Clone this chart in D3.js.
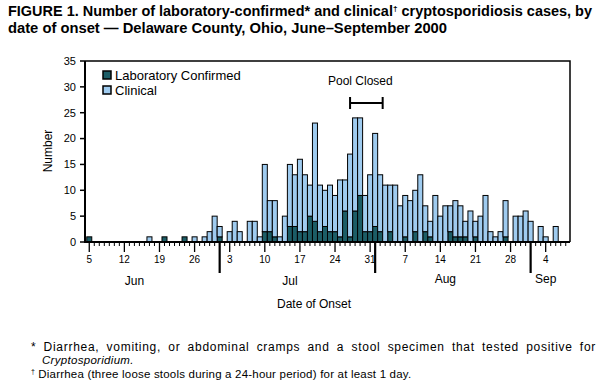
<!DOCTYPE html>
<html>
<head>
<meta charset="utf-8">
<script src="https://cdn.jsdelivr.net/npm/d3@7"></script>
<style>
  body { margin: 0; background: #fff; }
  svg { display: block; font-family: "Liberation Sans", Arial, sans-serif; }
</style>
</head>
<body>
<svg id="chart" width="604" height="386"></svg>
<script>
// daily counts, Jun 5 .. Sep 8 2000
const firstDay = "2000-06-05";
const lastDay = "2000-09-08";

const labConfirmed = [
  1, 0, 0, 0, 0, 0, 0, 0, 0, 0,
  0, 0, 0, 0, 0, 1, 0, 0, 0, 1,
  0, 0, 0, 0, 0, 0, 1, 0, 0, 0,
  0, 0, 0, 0, 0, 2, 2, 1, 0, 0,
  3, 3, 2, 2, 5, 4, 2, 3, 2, 2,
  1, 6, 1, 6, 9, 2, 2, 3, 2, 0,
  2, 0, 0, 1, 0, 2, 0, 2, 1, 0,
  0, 0, 2, 1, 1, 1, 0, 1, 0, 0,
  0, 0, 0, 1, 0, 0, 0, 0, 0, 0,
  0, 0, 0, 0, 0, 0
];

const clinical = [
  0, 0, 0, 0, 0, 0, 0, 0, 0, 0,
  0, 0, 1, 0, 0, 0, 0, 0, 0, 0,
  0, 1, 0, 1, 2, 5, 2, 0, 2, 4,
  2, 0, 4, 4, 1, 13, 6, 7, 1, 5,
  12, 10, 14, 11, 6, 19, 9, 7, 9, 7,
  11, 6, 16, 18, 15, 7, 11, 18, 11, 11,
  9, 11, 7, 8, 8, 8, 13, 5, 3, 9,
  5, 7, 5, 7, 6, 3, 6, 3, 5, 9,
  2, 1, 2, 7, 0, 5, 5, 6, 4, 0,
  3, 1, 0, 3, 0, 0
];

const weekTicks = ["2000-06-05", "2000-06-12", "2000-06-19", "2000-06-26", "2000-07-03",
  "2000-07-10", "2000-07-17", "2000-07-24", "2000-07-31", "2000-08-07", "2000-08-14",
  "2000-08-21", "2000-08-28", "2000-09-04"];
const monthNames = ["Jun", "Jul", "Aug", "Sep"];
const monthLabelDays = ["2000-06-14", "2000-07-15", "2000-08-15", "2000-09-04"];
const poolClosed = ["2000-07-27", "2000-08-02"];
const yTicks = [0, 5, 10, 15, 20, 25, 30, 35];

const parse = d3.timeParse("%Y-%m-%d");
const fmtKey = d3.timeFormat("%Y-%m-%d");

const svg = d3.select("#chart");
const plotLeft = 85, plotRight = 570, plotTop = 61, plotBottom = 242;
const lightBlue = "#9fcbef", darkTeal = "#1c5d66";

const days = d3.timeDay.range(parse(firstDay), d3.timeDay.offset(parse(lastDay), 1));
const rows = days.map((d, i) => ({ key: fmtKey(d), date: d, lab: labConfirmed[i], clin: clinical[i] }));

const x = d3.scaleBand()
  .domain(rows.map(d => d.key))
  .range([plotLeft, plotRight])
  .paddingInner(0)
  .paddingOuter(0.35);
const bw = x.bandwidth();
const cx = k => x(k) + bw / 2;

const y = d3.scaleLinear().domain([0, 35]).range([plotBottom, plotTop]);

// title
const t1 = svg.append("text").attr("x", 8).attr("y", 16)
  .attr("font-size", 14).attr("font-weight", "bold")
  .attr("textLength", 584).attr("lengthAdjust", "spacingAndGlyphs");
t1.append("tspan").text("FIGURE 1. Number of laboratory-confirmed* and clinical");
t1.append("tspan").attr("font-size", 8).attr("dy", -5).text("†");
t1.append("tspan").attr("dy", 5).text(" cryptosporidiosis cases, by");
svg.append("text").attr("x", 8).attr("y", 33)
  .attr("font-size", 14).attr("font-weight", "bold")
  .attr("textLength", 439).attr("lengthAdjust", "spacingAndGlyphs")
  .text("date of onset \u2014 Delaware County, Ohio, June\u2013September 2000");

// bars
const g = svg.append("g");
g.selectAll("rect.lab")
  .data(rows.filter(d => d.lab > 0))
  .join("rect")
  .attr("class", "lab")
  .attr("x", d => x(d.key))
  .attr("width", bw)
  .attr("y", d => y(d.lab))
  .attr("height", d => y(0) - y(d.lab))
  .attr("fill", darkTeal)
  .attr("stroke", "#000").attr("stroke-width", 1);
g.selectAll("rect.clin")
  .data(rows.filter(d => d.clin > 0))
  .join("rect")
  .attr("class", "clin")
  .attr("x", d => x(d.key))
  .attr("width", bw)
  .attr("y", d => y(d.lab + d.clin))
  .attr("height", d => y(d.lab) - y(d.lab + d.clin))
  .attr("fill", lightBlue)
  .attr("stroke", "#000").attr("stroke-width", 1);

// frame
svg.append("path")
  .attr("d", `M${plotLeft},${plotTop}H${plotRight}V${plotBottom}`)
  .attr("fill", "none").attr("stroke", "#000").attr("stroke-width", 1.5);
svg.append("path")
  .attr("d", `M${plotLeft},${plotTop}V${plotBottom}H${plotRight}`)
  .attr("fill", "none").attr("stroke", "#000").attr("stroke-width", 2);

// y axis
const yAxis = svg.append("g");
yAxis.selectAll("line").data(yTicks).join("line")
  .attr("x1", plotLeft - 5).attr("x2", plotLeft)
  .attr("y1", d => y(d)).attr("y2", d => y(d))
  .attr("stroke", "#000").attr("stroke-width", 1.5);
yAxis.selectAll("text").data(yTicks).join("text")
  .attr("x", 76).attr("y", d => y(d)).attr("dy", "0.35em")
  .attr("text-anchor", "end").attr("font-size", 11)
  .text(d => d);
svg.append("text")
  .attr("transform", "translate(52,151) rotate(-90)")
  .attr("text-anchor", "middle").attr("font-size", 12)
  .text("Number");

// x axis ticks
const weekSet = new Set(weekTicks);
const xAxis = svg.append("g");
xAxis.selectAll("line").data(rows).join("line")
  .attr("x1", d => cx(d.key)).attr("x2", d => cx(d.key))
  .attr("y1", plotBottom)
  .attr("y2", d => d.date.getDate() === 1 ? 273 : weekSet.has(d.key) ? 252 : 246)
  .attr("stroke", "#000")
  .attr("stroke-width", d => d.date.getDate() === 1 ? 2.2 : weekSet.has(d.key) ? 1.3 : 1);
xAxis.selectAll("text.day").data(weekTicks).join("text")
  .attr("class", "day")
  .attr("x", d => cx(d)).attr("y", 263)
  .attr("text-anchor", "middle").attr("font-size", 10)
  .text(d => parse(d).getDate());
xAxis.selectAll("text.month").data(monthNames).join("text")
  .attr("class", "month")
  .attr("x", (d, i) => cx(monthLabelDays[i]))
  .attr("y", (d, i) => i < 2 ? 285 : 283)
  .attr("text-anchor", "middle").attr("font-size", 12)
  .text(d => d);
svg.append("text")
  .attr("x", 314).attr("y", 308)
  .attr("text-anchor", "middle").attr("font-size", 12)
  .text("Date of Onset");

// legend
const legend = svg.append("g");
const legendItems = [["Laboratory Confirmed", darkTeal], ["Clinical", lightBlue]];
legendItems.forEach(([label, color], i) => {
  legend.append("rect")
    .attr("x", 103).attr("y", 71 + i * 15)
    .attr("width", 8).attr("height", 8)
    .attr("fill", color).attr("stroke", "#000").attr("stroke-width", 1.5);
  legend.append("text")
    .attr("x", 115).attr("y", 80 + i * 15)
    .attr("font-size", 13)
    .text(label);
});

// pool closed bracket
const pcL = cx(poolClosed[0]), pcR = x(poolClosed[1]) + bw;
svg.append("path")
  .attr("d", `M${pcL},97V109M${pcL},103H${pcR}M${pcR},97V109`)
  .attr("fill", "none").attr("stroke", "#000").attr("stroke-width", 2);
svg.append("text")
  .attr("x", (pcL + pcR) / 2 - 6).attr("y", 85)
  .attr("text-anchor", "middle").attr("font-size", 12)
  .text("Pool Closed");

// footnotes (first line justified, spread over letters and words)
const fnText = "* Diarrhea, vomiting, or abdominal cramps and a stool specimen that tested positive for";
const fn1 = svg.append("text").attr("x", 31).attr("y", 351).attr("font-size", 12)
  .text(fnText);
const natural = fn1.node().getComputedTextLength();
const gaps = fnText.split(" ").length - 1;
const extra = Math.max(0, 565 - natural);
fn1.attr("letter-spacing", extra * 0.6 / fnText.length)
  .attr("word-spacing", extra * 0.4 / gaps);
svg.append("text").attr("x", 42).attr("y", 364).attr("font-size", 11.5)
  .attr("font-style", "italic").attr("letter-spacing", 0.3)
  .text("Cryptosporidium.");
const fn2 = svg.append("text").attr("x", 31).attr("y", 378).attr("font-size", 11.5);
fn2.append("tspan").attr("font-size", 7).attr("dy", -4).text("†");
fn2.append("tspan").attr("dy", 4).attr("letter-spacing", 0.2)
  .text(" Diarrhea (three loose stools during a 24-hour period) for at least 1 day.");
</script>
</body>
</html>
